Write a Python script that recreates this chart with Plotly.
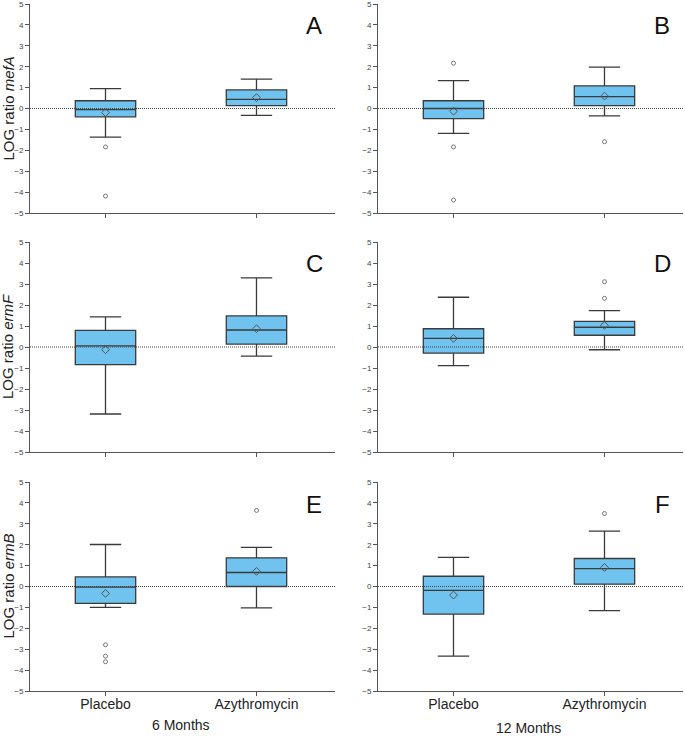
import plotly.graph_objects as go

# ---------------- data ----------------
groups = ["Placebo", "Azythromycin"]
panel_labels = ["A", "B", "C", "D", "E", "F"]
genes = ["mefA", "ermF", "ermB"]
timepoints = ["6 Months", "12 Months"]

# per panel (A..F), values for [Placebo, Azythromycin]
lower_whisker = [[-1.37, -0.33], [-1.19, -0.35], [-3.19, -0.43], [-0.89, -0.13], [-1.00, -1.02], [-3.33, -1.15]]
q1_vals       = [[-0.40, 0.14], [-0.48, 0.14], [-0.84, 0.14], [-0.29, 0.56], [-0.81, 0.00], [-1.32, 0.11]]
median_vals   = [[-0.05, 0.44], [0.00, 0.57], [0.05, 0.81], [0.41, 0.94], [-0.03, 0.67], [-0.19, 0.86]]
q3_vals       = [[0.37, 0.89], [0.37, 1.08], [0.79, 1.48], [0.87, 1.22], [0.46, 1.37], [0.49, 1.34]]
upper_whisker = [[0.95, 1.41], [1.33, 1.98], [1.43, 3.29], [2.37, 1.73], [2.01, 1.87], [1.39, 2.65]]
mean_vals     = [[-0.20, 0.52], [-0.13, 0.59], [-0.13, 0.87], [0.41, 1.03], [-0.33, 0.72], [-0.41, 0.91]]
outliers      = [
    [[-1.84, -4.19], []],
    [[2.17, -1.84, -4.38], [-1.59]],
    [[], []],
    [[], [3.11, 2.32]],
    [[-2.79, -3.33, -3.60], [3.64]],
    [[], [3.49]],
]
y_ticks = [-5, -4, -3, -2, -1, 0, 1, 2, 3, 4, 5]

# ---------------- figure ----------------
W, H = 685, 738
fig = go.Figure()

col_px = [(30, 335), (378, 683)]
row_px = [(4, 213), (242, 452), (482, 691)]
X_RANGE = [-0.5, 1.52]

FONT = "Liberation Sans, Arial, sans-serif"
BOX_FILL = "#70C3EE"
LINE = "#3a3a3a"

annotations = []
shapes = []
for p in range(6):
    r, c = divmod(p, 2)
    ax = "" if p == 0 else str(p + 1)
    xref, yref = "x" + ax, "y" + ax
    x0, x1 = col_px[c]
    y0, y1 = row_px[r]
    fig.layout["xaxis" + ax] = dict(
        domain=[x0 / W, x1 / W], range=X_RANGE, anchor=yref, automargin=False,
        tickvals=[0, 1], ticktext=groups if r == 2 else ["", ""],
        showticklabels=(r == 2), ticks="outside", ticklen=4, tickcolor="#555",
        showline=True, linecolor="#555", linewidth=1, showgrid=False, zeroline=False,
        tickfont=dict(size=14, color="#222", family=FONT), fixedrange=True,
        ticklabelstandoff=-4,
    )
    fig.layout["yaxis" + ax] = dict(
        domain=[1 - y1 / H, 1 - y0 / H], range=[-5, 5], anchor=xref, automargin=False,
        tickvals=y_ticks, ticks="outside", ticklen=4, tickcolor="#555",
        showline=True, linecolor="#555", linewidth=1, showgrid=False, zeroline=False,
        tickfont=dict(size=8, color="#444", family=FONT), ticklabeloverflow="allow",
    )
    # zero reference line
    shapes.append(dict(type="line", xref=xref + " domain", yref=yref, x0=0, x1=1, y0=0, y1=0,
                       line=dict(color="#444", width=1, dash="1px,1px"), layer="above"))
    for g in range(2):
        fig.add_trace(go.Box(
            x=[g], q1=[q1_vals[p][g]], median=[median_vals[p][g]], q3=[q3_vals[p][g]],
            lowerfence=[lower_whisker[p][g]], upperfence=[upper_whisker[p][g]],
            width=0.4, whiskerwidth=0.52, fillcolor=BOX_FILL,
            line=dict(color=LINE, width=1.3), boxpoints=False,
            xaxis=xref, yaxis=yref, showlegend=False, hoverinfo="skip",
        ))
        fig.add_trace(go.Scatter(
            x=[g], y=[mean_vals[p][g]], mode="markers",
            marker=dict(symbol="diamond-open", size=6, color="#555", line=dict(width=1)),
            xaxis=xref, yaxis=yref, showlegend=False, hoverinfo="skip",
        ))
        if outliers[p][g]:
            fig.add_trace(go.Scatter(
                x=[g] * len(outliers[p][g]), y=outliers[p][g], mode="markers",
                marker=dict(symbol="circle-open", size=4, color="#777", line=dict(width=1)),
                xaxis=xref, yaxis=yref, showlegend=False, hoverinfo="skip",
            ))
    # panel letter
    annotations.append(dict(text=panel_labels[p], x=(x1 - 21) / W, y=1 - (y0 + 22) / H,
                            xref="paper", yref="paper", showarrow=False,
                            xanchor="center", yanchor="middle",
                            font=dict(size=24, color="#111", family=FONT)))
    # y-axis title (left column)
    if c == 0:
        annotations.append(dict(text="LOG ratio <i>" + genes[r] + "</i>", x=8 / W,
                                y=1 - ((y0 + y1) / 2) / H, xref="paper", yref="paper",
                                showarrow=False, textangle=-90,
                                xanchor="center", yanchor="middle",
                                font=dict(size=15, color="#222", family=FONT)))

# time point labels, centred between the two groups
for c, tp in enumerate(timepoints):
    x0, x1 = col_px[c]
    frac = (0.5 - X_RANGE[0]) / (X_RANGE[1] - X_RANGE[0])
    ypx = 725 if c == 0 else 728
    annotations.append(dict(text=tp, x=(x0 + frac * (x1 - x0)) / W,
                            y=1 - ypx / H, xref="paper", yref="paper", showarrow=False,
                            xanchor="center", yanchor="middle",
                            font=dict(size=14, color="#222", family=FONT)))

fig.update_layout(
    width=W, height=H, margin=dict(l=0, r=0, t=0, b=0),
    paper_bgcolor="white", plot_bgcolor="white",
    annotations=annotations, shapes=shapes, showlegend=False,
    font=dict(family=FONT),
)

fig.write_html("out.html", config={"displayModeBar": False},
               post_script="document.body.style.margin='0';")
